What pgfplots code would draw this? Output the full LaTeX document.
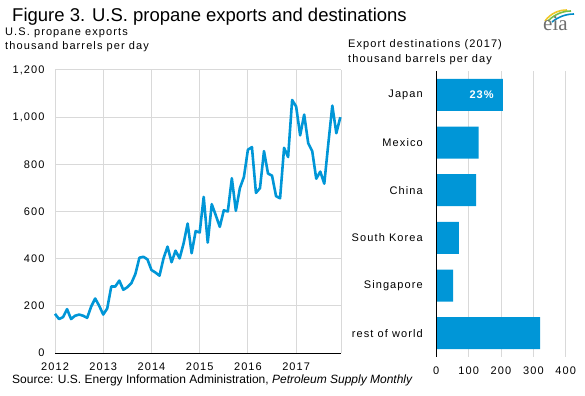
\documentclass[border=0pt]{standalone}
\usepackage{fontspec}
\setmainfont{Liberation Sans}
\newfontfamily\lsfont[LetterSpace=10]{Liberation Sans}
\newfontfamily\seriffont{Liberation Serif}
\usepackage{pgfplots}
\pgfplotsset{compat=1.18}
\definecolor{eiablue}{RGB}{0,150,215}
\definecolor{gridgray}{RGB}{217,217,217}
\definecolor{logoyellow}{RGB}{240,200,40}
\definecolor{logogreen}{RGB}{120,190,70}
\definecolor{logoblue}{RGB}{0,140,200}
\definecolor{logogray}{RGB}{110,110,110}

\pgfplotstableread{
x y
2012.0000 166
2012.0833 144
2012.1667 152
2012.2500 186
2012.3333 144
2012.4167 158
2012.5000 163
2012.5833 158
2012.6667 149
2012.7500 197
2012.8333 231
2012.9167 200
2013.0000 163
2013.0833 189
2013.1667 282
2013.2500 282
2013.3333 307
2013.4167 268
2013.5000 279
2013.5833 296
2013.6667 335
2013.7500 404
2013.8333 408
2013.9167 397
2014.0000 352
2014.0833 341
2014.1667 328
2014.2500 401
2014.3333 451
2014.4167 385
2014.5000 434
2014.5833 401
2014.6667 465
2014.7500 549
2014.8333 423
2014.9167 517
2015.0000 511
2015.0833 662
2015.1667 468
2015.2500 631
2015.3333 584
2015.4167 535
2015.5000 605
2015.5833 600
2015.6667 741
2015.7500 603
2015.8333 699
2015.9167 746
2016.0000 862
2016.0833 873
2016.1667 679
2016.2500 699
2016.3333 856
2016.4167 761
2016.5000 752
2016.5833 665
2016.6667 656
2016.7500 870
2016.8333 831
2016.9167 1073
2017.0000 1045
2017.0833 923
2017.1667 1011
2017.2500 890
2017.3333 856
2017.4167 739
2017.5000 769
2017.5833 718
2017.6667 887
2017.7500 1049
2017.8333 932
2017.9167 1000
}\exportsdata

\pgfplotstableread{
y x
0 206
1 131
2 123
3 70
4 52
5 321
}\destdata

\begin{document}
\begin{tikzpicture}
\useasboundingbox (0,0) rectangle (585bp,396bp);
% titles
\node[anchor=base west, inner sep=0] at (12bp,374bp) {\fontsize{18.5bp}{20bp}\selectfont Figure 3. U.S. propane exports and destinations};
\node[anchor=base west, inner sep=0] at (5bp,360bp) {\lsfont\fontsize{11bp}{13bp}\selectfont U.S. propane exports};
\node[anchor=base west, inner sep=0] at (5bp,346bp) {\lsfont\fontsize{11bp}{13bp}\selectfont thousand barrels per day};
\node[anchor=base west, inner sep=0] at (348bp,348bp) {\lsfont\fontsize{11bp}{13bp}\selectfont Export destinations (2017)};
\node[anchor=base west, inner sep=0] at (348bp,333bp) {\lsfont\fontsize{11bp}{13bp}\selectfont thousand barrels per day};
\node[anchor=base west, inner sep=0] at (12bp,13bp) {\fontsize{12bp}{14bp}\selectfont Source: U.S. Energy Information Administration, \textit{Petroleum Supply Monthly}};
% logo
\draw[logoyellow, line width=1.6bp] (545bp,375bp) .. controls (551bp,383bp) and (559bp,386bp) .. (567bp,386bp);
\draw[logogreen, line width=1.6bp] (548bp,375bp) .. controls (555bp,382bp) and (563bp,385bp) .. (571bp,385bp);
\draw[logoblue, line width=1.6bp] (552bp,374bp) .. controls (558bp,379bp) and (566bp,382bp) .. (574bp,382bp);
\node[anchor=base west, inner sep=0, text=logogray] at (543bp,365bp) {\seriffont\fontsize{21bp}{21bp}\selectfont eia};

\begin{axis}[
  at={(55bp,43bp)}, anchor=south west, scale only axis,
  width=286bp, height=283bp,
  xmin=2012, xmax=2017.93, ymin=0, ymax=1200,
  xtick={2012,2013,2014,2015,2016,2017},
  extra x ticks={2017.93}, extra x tick labels={},
  ytick={0,200,400,600,800,1000,1200},
  grid=major, grid style={gridgray, line width=1bp},
  axis line style={draw=none},
  major tick length=0pt,
  tick label style={font=\lsfont\fontsize{11bp}{13bp}\selectfont},
  /pgf/number format/assume math mode=true,
  yticklabel style={/pgf/number format/1000 sep={,}, xshift=-7bp},
  xticklabel style={/pgf/number format/1000 sep={}, yshift=-6bp},
  clip=false,
]
\addplot[eiablue, line width=2.6bp, line join=round] table[x=x,y=y] {\exportsdata};
\draw[black, line width=1bp] (axis cs:2012,0) -- (axis cs:2017.93,0);
\end{axis}

\begin{axis}[
  at={(436.3bp,39bp)}, anchor=south west, scale only axis,
  width=129.4bp, height=286bp,
  xbar, bar width=32bp,
  xmin=0, xmax=400, ymin=-0.5, ymax=5.5, y dir=reverse,
  ytick={0,1,2,3,4,5},
  yticklabels={Japan,Mexico,China,South Korea,Singapore,rest of world},
  xtick={0,100,200,300,400},
  xmajorgrids, ymajorgrids=false, grid style={gridgray, line width=1bp},
  axis line style={draw=none},
  major tick length=0pt,
  tick label style={font=\lsfont\fontsize{11bp}{13bp}\selectfont},
  /pgf/number format/assume math mode=true,
  yticklabel style={xshift=-10bp},
  xticklabel style={yshift=-6bp},
  clip=false,
]
\addplot[draw=none, fill=eiablue] table[x=x,y=y] {\destdata};
\draw[black, line width=1bp] (axis cs:0,-0.5) -- (axis cs:0,5.5);
\node[anchor=east, text=white, inner sep=0, font=\lsfont\fontsize{11bp}{13bp}\selectfont\bfseries] at (axis cs:206,0) [xshift=-9bp] {23\%};
\end{axis}
\end{tikzpicture}
\end{document}
